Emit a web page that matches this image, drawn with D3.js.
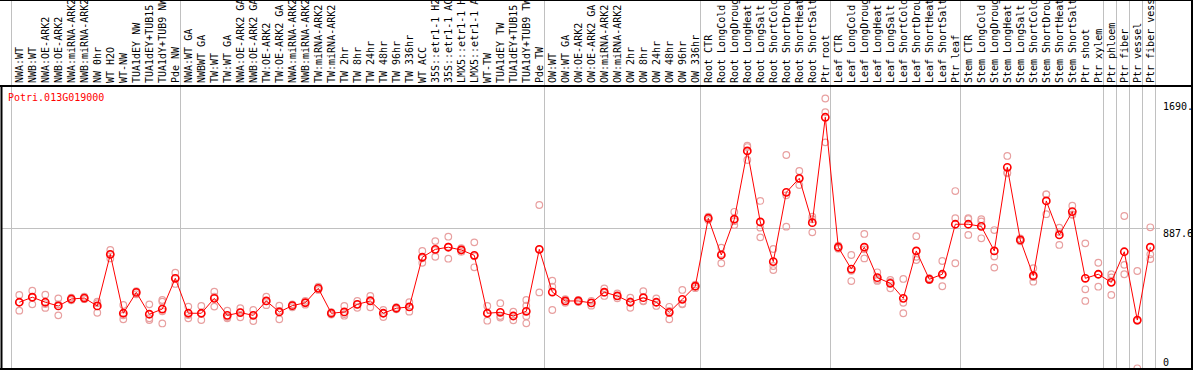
<!DOCTYPE html>
<html>
<head>
<meta charset="utf-8">
<script src="https://cdn.jsdelivr.net/npm/d3@7"></script>
<style>
  body { margin: 0; background: #fff; }
  svg { display: block; }
  text { font-family: "DejaVu Sans Mono", "Liberation Mono", monospace; font-size: 10px; }
</style>
</head>
<body>
<svg id="chart"></svg>
<script>
// sample labels (cut at 14 chars like the original)
let labels = [
  "NWA:WT", "NWB:WT", "NWA:OE-ARK2", "NWB:OE-ARK2", "NWA:miRNA-ARK2", "NWB:miRNA-ARK2",
  "NW 0hr", "WT H2O", "WT-NW", "TUA1dEY NW", "TUA1dEY+TUB15", "TUA1dY+TUB9 NW", "Pde NW",
  "NWA:WT GA", "NWBWT GA", "TW:WT", "TW:WT GA", "NWA:OE-ARK2 GA", "NWB:OE-ARK2 GA",
  "TW:OE-ARK2", "TW:OE-ARK2 GA", "NWA:miRNA-ARK2", "NWB:miRNA-ARK2", "TW:miRNA-ARK2", "TW:miRNA-ARK2",
  "TW 2hr", "TW 8hr", "TW 24hr", "TW 48hr", "TW 96hr", "TW 336hr", "WT ACC",
  "35S::etr1-1 H2", "35S::etr1-1 AC", "LMX5::etr1-1 H", "LMX5::etr1-1 A",
  "WT-TW", "TUA1dEY TW", "TUA1dEY+TUB15", "TUA1dY+TUB9 TW", "Pde TW",
  "OW:WT", "OW:WT GA", "OW:OE-ARK2", "OW:OE-ARK2 GA", "OW:miRNA-ARK2", "OW:miRNA-ARK2",
  "OW 2hr", "OW 8hr", "OW 24hr", "OW 48hr", "OW 96hr", "OW 336hr",
  "Root CTR", "Root LongCold", "Root LongDroug", "Root LongHeat", "Root LongSalt",
  "Root ShortCold", "Root ShortDrou", "Root ShortHeat", "Root ShortSalt", "Ptr root",
  "Leaf CTR", "Leaf LongCold", "Leaf LongDroug", "Leaf LongHeat", "Leaf LongSalt",
  "Leaf ShortCold", "Leaf ShortDrou", "Leaf ShortHeat", "Leaf ShortSalt", "Ptr leaf",
  "Stem CTR", "Stem LongCold", "Stem LongDroug", "Stem LongHeat", "Stem LongSalt",
  "Stem ShortCold", "Stem ShortDrou", "Stem ShortHeat", "Stem ShortSalt",
  "Ptr shoot", "Ptr xylem", "Ptr phloem", "Ptr fiber", "Ptr vessel", "Ptr fiber vess"
]

// mean expression per sample
let means = [
  431, 462, 431, 408, 451, 457, 408, 727, 363, 492, 357, 389, 579,
  363, 363, 455, 350, 367, 350, 439, 371, 410, 428, 517, 363, 371, 418, 439, 363, 394, 402,
  709, 758, 771, 754, 721, 363, 369, 346, 375, 758,
  494, 439, 439, 427, 493, 470, 431, 459, 431, 369, 449, 530,
  950, 723, 944, 1366, 927, 682, 1110, 1197, 923, 1574,
  771, 636, 771, 583, 548, 455, 748, 573, 604, 913,
  913, 900, 748, 1265, 816, 595, 1057, 847, 991,
  579, 604, 554, 743, 321, 771
]

// replicate values per sample
let reps = [
  [476, 431, 379], [502, 462, 418], [478, 420, 396], [455, 418, 350], [460, 451, 443],
  [465, 457, 450], [434, 425, 366], [754, 727, 702], [414, 350, 326], [500, 492, 480],
  [418, 332, 321], [445, 435, 375, 300], [614, 579, 544],
  [404, 352, 332], [408, 360, 321], [496, 465, 404], [379, 340, 332], [394, 370, 338],
  [383, 352, 315], [465, 438, 413], [410, 378, 326], [418, 410, 400], [440, 428, 416],
  [527, 517, 507], [370, 363, 355], [408, 358, 348], [439, 418, 397], [470, 446, 400],
  [383, 363, 340], [400, 394, 387], [431, 402, 373],
  [748, 703, 675], [809, 752, 712], [836, 775, 700], [765, 754, 742], [801, 715, 647],
  [408, 363, 317], [425, 346, 336], [373, 346, 319], [445, 410, 345, 301], [1032, 758, 492],
  [564, 527, 383], [450, 438, 428], [445, 438, 432], [440, 425, 410], [517, 490, 470],
  [485, 470, 455], [459, 436, 397], [500, 440, 437], [455, 430, 408], [403, 378, 326],
  [507, 422, 418], [540, 530, 518],
  [960, 950, 940], [768, 730, 672], [990, 932, 908], [1398, 1390, 1310], [1057, 892, 832],
  [760, 655, 630], [1341, 1092, 898], [1242, 1195, 1155], [960, 944, 863], [1690, 1605, 1419],
  [780, 771, 762], [723, 625, 562], [853, 758, 702], [616, 570, 563], [569, 557, 517],
  [575, 428, 363], [839, 712, 692], [580, 570, 568], [686, 596, 530], [1118, 950, 672],
  [950, 945, 847], [944, 930, 826], [877, 713, 645], [1335, 1233, 1228], [825, 815, 808],
  [641, 586, 558], [1098, 1098, 975], [892, 865, 785], [1028, 974, 971],
  [795, 511, 439], [675, 603, 527], [604, 584, 476], [964, 662, 604], [624, 316, 23], [894, 727, 698]
]

// group separators (index of last sample before each gray line)
let groupEnds = [-1, 12, 40, 52, 62, 72, 83, 84, 85, 86, 87]

let yTicks = [0, 887.6, 1690]
let yTickLabels = ["0", "887.6", "1690."]

let geneName = "Potri.013G019000"

let width = 1194
let height = 370
let labelBottom = 86

let svg = d3.select('#chart')
    .attr('width', width)
    .attr('height', height)

let xScale = d3.scaleLinear()
    .domain([0, labels.length - 1])
    .range([19.3, 1150.3])

let yScale = d3.scaleLinear()
    .domain([0, 1690])
    .range([372, 98.5])

// gray column separators, full height
svg.append('g')
    .selectAll('line')
    .data(groupEnds)
    .enter()
    .append('line')
    .attr('x1', (d) => Math.round(xScale(d) + 5) + 0.5)
    .attr('x2', (d) => Math.round(xScale(d) + 5) + 0.5)
    .attr('y1', 0)
    .attr('y2', height)
    .attr('stroke', '#c0c0c0')
    .attr('stroke-width', 1)

// horizontal grid line at the middle tick
svg.append('line')
    .attr('x1', 2)
    .attr('x2', 1160)
    .attr('y1', Math.round(yScale(yTicks[1])) + 0.5)
    .attr('y2', Math.round(yScale(yTicks[1])) + 0.5)
    .attr('stroke', '#c0c0c0')

let plot = svg.append('g')

// replicates
let repPoints = []
reps.forEach((r, i) => {
    r.forEach((v) => repPoints.push({i: i, v: v}))
})

plot.selectAll('circle.rep')
    .data(repPoints)
    .enter()
    .append('circle')
    .attr('class', 'rep')
    .attr('cx', (d) => xScale(d.i))
    .attr('cy', (d) => yScale(d.v))
    .attr('r', 3.3)
    .attr('fill', 'none')
    .attr('stroke', '#e8a0a0')
    .attr('stroke-width', 1.2)

// means
plot.selectAll('circle.mean')
    .data(means)
    .enter()
    .append('circle')
    .attr('class', 'mean')
    .attr('cx', (d, i) => xScale(i))
    .attr('cy', (d) => yScale(d))
    .attr('r', 3.6)
    .attr('fill', 'none')
    .attr('stroke', '#ff0000')
    .attr('stroke-width', 1.6)

let line = d3.line()
    .x((d, i) => xScale(i))
    .y((d) => yScale(d))

plot.append('path')
    .datum(means)
    .attr('d', line)
    .attr('fill', 'none')
    .attr('stroke', '#ff0000')
    .attr('stroke-width', 1)

// frame
svg.append('line').attr('x1', 0).attr('x2', 1193).attr('y1', 0.5).attr('y2', 0.5).attr('stroke', '#000')
svg.append('line').attr('x1', 0).attr('x2', 1193).attr('y1', labelBottom).attr('y2', labelBottom)
    .attr('stroke', '#000').attr('stroke-width', 2)
svg.append('line').attr('x1', 0).attr('x2', 1193).attr('y1', 369).attr('y2', 369)
    .attr('stroke', '#000').attr('stroke-width', 2)
svg.append('line').attr('x1', 1.5).attr('x2', 1.5).attr('y1', labelBottom).attr('y2', height)
    .attr('stroke', '#000').attr('stroke-width', 2)
svg.append('line').attr('x1', 1192).attr('x2', 1192).attr('y1', 0).attr('y2', height)
    .attr('stroke', '#000').attr('stroke-width', 2)

// sample labels, rotated
svg.append('g')
    .selectAll('text')
    .data(labels)
    .enter()
    .append('text')
    .attr('transform', (d, i) => 'translate(' + (xScale(i) + 3.6) + ',' + (labelBottom - 3) + ') rotate(-90)')
    .attr('fill', '#000')
    .text((d) => d)

// value labels on the right
svg.append('g')
    .selectAll('text')
    .data(yTicks)
    .enter()
    .append('text')
    .attr('x', 1163)
    .attr('y', (d) => Math.min(Math.max(yScale(d) + 9, 110), 366))
    .attr('fill', '#000')
    .text((d, i) => yTickLabels[i])

svg.append('text')
    .attr('x', 8)
    .attr('y', 101)
    .attr('fill', '#ff0000')
    .text(geneName)
</script>
</body>
</html>
